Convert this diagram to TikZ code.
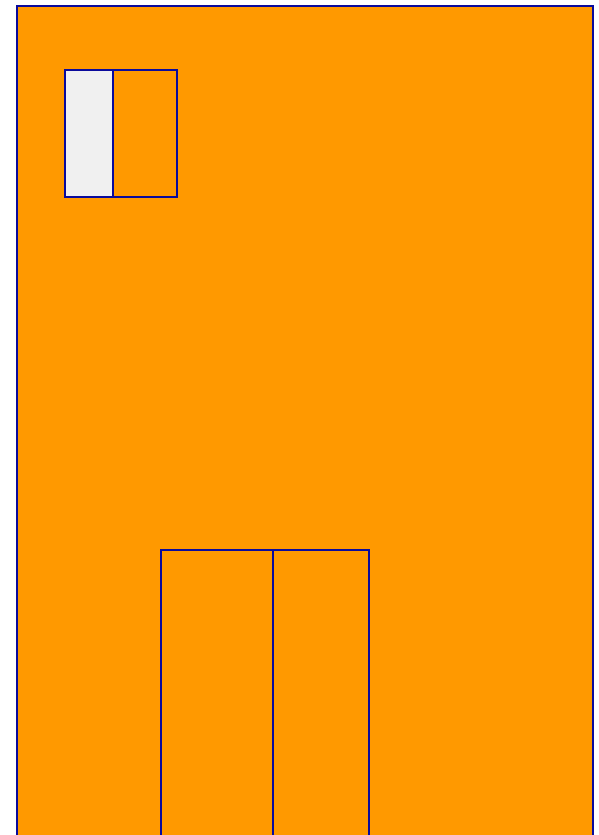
\documentclass[tikz,border=0pt]{standalone}
\usepackage[HTML]{xcolor}
\usepackage{tikz}
\definecolor{wall}{HTML}{FF9900}
\definecolor{edge}{HTML}{0A0A9C}
\definecolor{glass}{HTML}{F0F0F0}

\begin{document}
\begin{tikzpicture}[x=1pt,y=-1pt,line width=1.8pt]
\clip (0,0) rectangle (598,835);
\fill[white] (0,0) rectangle (598,835);
% wall
\filldraw[fill=wall,draw=edge] (17,6) rectangle (593,850);
% window
\filldraw[fill=glass,draw=edge] (65,70) rectangle (113,197);
\filldraw[fill=wall,draw=edge] (113,70) rectangle (177,197);
% door
\draw[edge] (161,850)--(161,550)--(369,550)--(369,850);
\draw[edge] (273,550)--(273,850);
\end{tikzpicture}
\end{document}
